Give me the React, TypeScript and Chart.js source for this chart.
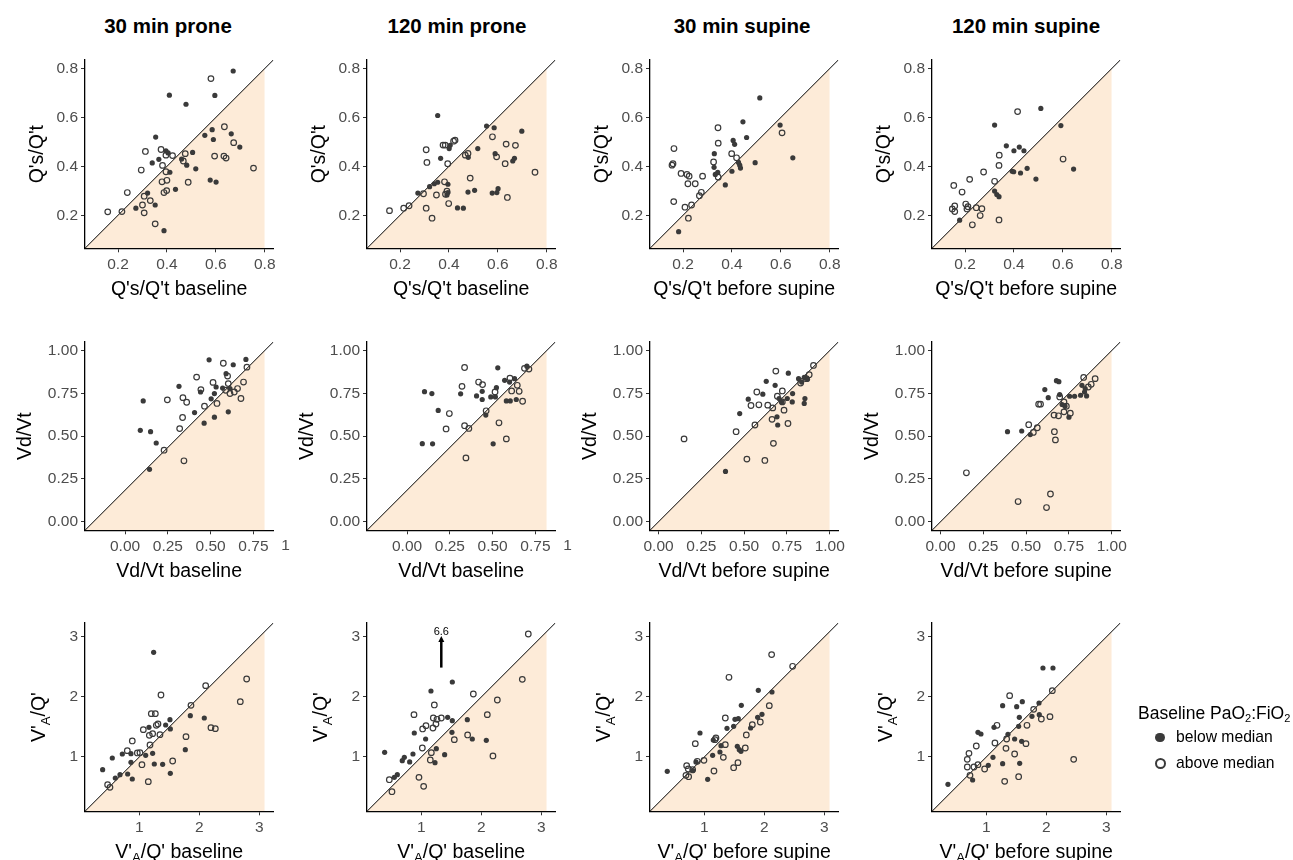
import React, { useEffect, useRef } from 'react';
import { Chart, registerables } from 'chart.js';

Chart.register(...registerables);

const FONT = '"Liberation Sans", Arial, Helvetica, sans-serif';

// ---------- data: [x, y] pairs ----------
const shunt30ProneBelow: [number, number][] = [[0.671,0.790],[0.410,0.691],[0.596,0.690],[0.478,0.654],[0.354,0.520],[0.555,0.527],[0.585,0.550],[0.590,0.510],[0.663,0.533],[0.698,0.479],[0.396,0.463],[0.367,0.429],[0.340,0.414],[0.405,0.455],[0.460,0.430],[0.481,0.405],[0.505,0.457],[0.518,0.390],[0.412,0.376],[0.435,0.306],[0.577,0.344],[0.601,0.336],[0.321,0.291],[0.352,0.242],[0.273,0.229],[0.388,0.137]];
const shunt30ProneAbove: [number, number][] = [[0.580,0.759],[0.635,0.562],[0.673,0.497],[0.312,0.461],[0.376,0.469],[0.396,0.446],[0.423,0.444],[0.475,0.452],[0.467,0.422],[0.382,0.404],[0.295,0.385],[0.396,0.378],[0.595,0.442],[0.633,0.442],[0.642,0.434],[0.754,0.393],[0.380,0.337],[0.400,0.343],[0.487,0.335],[0.388,0.293],[0.399,0.301],[0.238,0.293],[0.307,0.278],[0.332,0.260],[0.300,0.242],[0.307,0.210],[0.158,0.214],[0.216,0.215],[0.352,0.165]];

const shunt120ProneBelow: [number, number][] = [[0.354,0.608],[0.554,0.565],[0.585,0.558],[0.698,0.544],[0.405,0.486],[0.401,0.473],[0.518,0.473],[0.589,0.452],[0.366,0.433],[0.479,0.437],[0.668,0.433],[0.661,0.422],[0.354,0.335],[0.340,0.329],[0.321,0.317],[0.396,0.327],[0.273,0.291],[0.396,0.293],[0.392,0.283],[0.478,0.295],[0.505,0.302],[0.577,0.291],[0.596,0.293],[0.601,0.309],[0.435,0.230],[0.459,0.229]];
const shunt120ProneAbove: [number, number][] = [[0.578,0.521],[0.634,0.491],[0.672,0.486],[0.376,0.487],[0.385,0.487],[0.419,0.503],[0.425,0.507],[0.307,0.468],[0.467,0.446],[0.478,0.453],[0.595,0.439],[0.310,0.416],[0.395,0.411],[0.630,0.411],[0.752,0.376],[0.487,0.352],[0.382,0.337],[0.296,0.288],[0.349,0.283],[0.392,0.299],[0.386,0.286],[0.399,0.248],[0.639,0.273],[0.307,0.229],[0.331,0.188],[0.157,0.219],[0.215,0.229],[0.237,0.239]];

const shunt30SupineBelow: [number, number][] = [[0.514,0.680],[0.445,0.582],[0.597,0.569],[0.405,0.506],[0.411,0.490],[0.460,0.518],[0.328,0.452],[0.327,0.396],[0.342,0.376],[0.332,0.367],[0.427,0.416],[0.432,0.405],[0.435,0.393],[0.495,0.415],[0.649,0.435],[0.400,0.380],[0.373,0.324],[0.182,0.133]];
const shunt30SupineAbove: [number, number][] = [[0.343,0.558],[0.605,0.537],[0.344,0.495],[0.163,0.473],[0.399,0.452],[0.419,0.435],[0.325,0.418],[0.155,0.405],[0.159,0.411],[0.192,0.371],[0.216,0.367],[0.225,0.360],[0.280,0.360],[0.220,0.329],[0.250,0.329],[0.344,0.356],[0.275,0.294],[0.267,0.280],[0.162,0.256],[0.208,0.233],[0.235,0.242],[0.222,0.188]];

const shunt120SupineBelow: [number, number][] = [[0.510,0.637],[0.321,0.569],[0.592,0.567],[0.369,0.484],[0.400,0.464],[0.422,0.479],[0.441,0.464],[0.393,0.380],[0.399,0.378],[0.427,0.373],[0.454,0.392],[0.490,0.348],[0.644,0.389],[0.321,0.299],[0.330,0.285],[0.339,0.276],[0.178,0.180]];
const shunt120SupineAbove: [number, number][] = [[0.415,0.624],[0.340,0.446],[0.339,0.404],[0.276,0.377],[0.219,0.347],[0.321,0.339],[0.154,0.322],[0.188,0.295],[0.601,0.430],[0.203,0.246],[0.212,0.235],[0.158,0.238],[0.148,0.226],[0.158,0.215],[0.208,0.226],[0.246,0.231],[0.269,0.227],[0.262,0.199],[0.230,0.161],[0.339,0.181]];

const dead30ProneBelow: [number, number][] = [[0.491,0.946],[0.706,0.948],[0.632,0.917],[0.590,0.865],[0.315,0.791],[0.106,0.706],[0.532,0.787],[0.441,0.758],[0.522,0.749],[0.503,0.718],[0.570,0.781],[0.406,0.638],[0.462,0.576],[0.522,0.611],[0.603,0.642],[0.089,0.534],[0.149,0.526],[0.182,0.460],[0.143,0.306],[0.613,0.778]];
const dead30ProneAbove: [number, number][] = [[0.574,0.926],[0.712,0.903],[0.418,0.845],[0.514,0.814],[0.599,0.851],[0.443,0.772],[0.247,0.712],[0.338,0.725],[0.360,0.698],[0.464,0.675],[0.537,0.691],[0.603,0.807],[0.613,0.749],[0.638,0.758],[0.657,0.778],[0.692,0.816],[0.677,0.720],[0.588,0.768],[0.336,0.609],[0.319,0.544],[0.228,0.418],[0.344,0.356]];

const dead120ProneBelow: [number, number][] = [[0.530,0.899],[0.700,0.909],[0.102,0.760],[0.145,0.749],[0.313,0.747],[0.406,0.735],[0.439,0.762],[0.439,0.714],[0.489,0.729],[0.522,0.783],[0.516,0.729],[0.570,0.826],[0.599,0.816],[0.628,0.836],[0.580,0.706],[0.603,0.706],[0.638,0.714],[0.182,0.650],[0.460,0.623],[0.089,0.456],[0.149,0.455],[0.503,0.455]];
const dead120ProneAbove: [number, number][] = [[0.336,0.901],[0.686,0.896],[0.712,0.892],[0.418,0.816],[0.441,0.801],[0.321,0.791],[0.601,0.839],[0.644,0.797],[0.611,0.764],[0.655,0.762],[0.514,0.758],[0.675,0.704],[0.247,0.632],[0.462,0.648],[0.336,0.561],[0.361,0.545],[0.228,0.542],[0.537,0.578],[0.580,0.484],[0.344,0.373]];

const dead30SupineBelow: [number, number][] = [[0.758,0.868],[0.629,0.820],[0.681,0.797],[0.609,0.745],[0.524,0.716],[0.474,0.632],[0.704,0.720],[0.720,0.700],[0.752,0.720],[0.783,0.749],[0.781,0.700],[0.818,0.836],[0.836,0.816],[0.851,0.843],[0.855,0.720],[0.851,0.691],[0.692,0.613],[0.696,0.565],[0.391,0.294],[0.870,0.832]];
const dead30SupineAbove: [number, number][] = [[0.685,0.880],[0.905,0.913],[0.880,0.859],[0.863,0.836],[0.830,0.810],[0.723,0.764],[0.574,0.758],[0.694,0.733],[0.723,0.700],[0.540,0.679],[0.586,0.683],[0.638,0.681],[0.667,0.665],[0.733,0.652],[0.663,0.598],[0.756,0.574],[0.563,0.565],[0.453,0.526],[0.149,0.484],[0.671,0.458],[0.516,0.366],[0.621,0.358]];

const dead120SupineBelow: [number, number][] = [[0.677,0.824],[0.691,0.818],[0.609,0.772],[0.629,0.725],[0.696,0.743],[0.710,0.685],[0.727,0.675],[0.754,0.733],[0.783,0.733],[0.818,0.739],[0.826,0.797],[0.845,0.778],[0.853,0.735],[0.841,0.758],[0.750,0.611],[0.391,0.526],[0.474,0.530],[0.524,0.509]];
const dead120SupineAbove: [number, number][] = [[0.836,0.843],[0.903,0.836],[0.880,0.803],[0.863,0.787],[0.696,0.729],[0.721,0.700],[0.735,0.675],[0.721,0.642],[0.758,0.634],[0.573,0.687],[0.584,0.687],[0.663,0.623],[0.689,0.619],[0.515,0.567],[0.565,0.549],[0.542,0.522],[0.665,0.526],[0.671,0.478],[0.151,0.286],[0.642,0.162],[0.453,0.118],[0.619,0.083]];

const vq30ProneBelow: [number, number][] = [[1.239,2.744],[1.511,1.622],[1.439,1.533],[1.517,1.467],[1.850,1.689],[2.083,1.650],[1.767,1.122],[1.161,1.494],[1.222,1.061],[1.106,1.028],[0.861,1.056],[0.717,1.050],[0.550,0.983],[0.389,0.789],[0.600,0.650],[0.678,0.706],[0.806,0.717],[0.883,0.633],[0.861,0.911],[1.250,0.883],[1.389,0.878],[1.517,0.728]];
const vq30ProneAbove: [number, number][] = [[2.106,2.189],[2.789,2.300],[2.683,1.922],[1.861,1.861],[1.361,2.033],[1.200,1.722],[1.267,1.722],[1.283,1.528],[1.311,1.550],[1.067,1.456],[1.222,1.389],[1.167,1.361],[1.344,1.372],[0.883,1.267],[1.178,1.200],[0.800,1.106],[0.967,1.067],[1.011,1.072],[1.044,0.872],[1.556,0.933],[1.778,1.339],[2.194,1.489],[2.267,1.472],[1.150,0.589],[0.472,0.539],[0.511,0.494]];

const vq120ProneBelow: [number, number][] = [[1.517,2.250],[1.161,2.100],[1.439,1.661],[1.517,1.606],[1.767,1.622],[1.511,1.411],[0.883,1.400],[1.072,1.300],[1.850,1.300],[2.083,1.278],[1.250,1.139],[1.389,1.039],[1.228,0.906],[0.861,1.050],[0.717,0.994],[0.683,0.939],[0.806,0.917],[0.389,1.078],[0.600,0.706],[0.550,0.661]];
const vq120ProneAbove: [number, number][] = [[2.783,3.050],[2.683,2.294],[1.867,2.050],[2.267,1.950],[1.217,1.867],[0.878,1.706],[1.200,1.650],[1.261,1.628],[1.333,1.650],[1.078,1.522],[1.022,1.467],[1.194,1.483],[1.244,1.550],[2.100,1.706],[1.772,1.367],[1.550,1.289],[1.017,1.150],[1.167,1.072],[1.150,0.950],[2.194,1.017],[0.961,0.661],[1.039,0.511],[0.467,0.622],[0.511,0.422]];

const vq30SupineBelow: [number, number][] = [[1.900,2.111],[2.128,2.083],[1.617,1.861],[0.928,1.400],[1.378,1.478],[1.511,1.628],[1.567,1.639],[1.489,1.511],[1.772,1.483],[1.889,1.661],[1.961,1.711],[1.150,1.283],[1.278,1.189],[1.261,1.083],[1.139,1.028],[1.550,1.178],[1.583,1.122],[1.611,1.094],[0.861,0.917],[0.806,0.772],[0.383,0.761],[1.056,0.628]];
const vq30SupineAbove: [number, number][] = [[2.122,2.706],[2.472,2.511],[1.411,2.328],[2.083,1.856],[1.350,1.650],[1.194,1.317],[1.178,1.289],[0.850,1.222],[1.350,1.206],[1.800,1.539],[1.933,1.583],[1.700,1.367],[1.683,1.150],[1.317,0.994],[0.994,0.944],[0.883,0.928],[0.706,0.856],[0.733,0.800],[0.806,0.789],[0.694,0.694],[0.739,0.672],[1.161,0.767],[1.561,0.906],[1.489,0.822]];

const vq120SupineBelow: [number, number][] = [[1.944,2.483],[2.111,2.483],[1.272,1.856],[1.506,1.839],[1.600,1.922],[1.550,1.661],[1.878,1.900],[1.761,1.678],[1.883,1.706],[1.539,1.511],[1.128,1.494],[0.861,1.411],[0.911,1.383],[1.361,1.378],[1.472,1.300],[1.589,1.261],[1.111,0.994],[1.033,0.861],[1.272,0.889],[1.556,0.894],[0.772,0.617],[0.361,0.544]];
const vq120SupineAbove: [number, number][] = [[1.389,2.022],[2.100,2.106],[1.789,1.794],[1.917,1.633],[2.061,1.672],[1.678,1.528],[1.178,1.528],[1.339,1.300],[1.144,1.233],[0.833,1.183],[1.328,1.144],[1.661,1.222],[1.472,1.050],[0.711,1.061],[0.683,0.961],[0.683,0.833],[0.794,0.833],[0.861,0.872],[0.972,0.800],[0.728,0.694],[2.456,0.961],[1.306,0.594],[1.539,0.672]];

// ---------- tick labels / text ----------
const columnTitles = ['30 min prone', '120 min prone', '30 min supine', '120 min supine'];
const shuntTicks = [0.2, 0.4, 0.6, 0.8];
const deadTicks = [0, 0.25, 0.5, 0.75, 1];
const deadTicksShifted = [0, 0.25, 0.5, 0.75];
const vqTicks = [1, 2, 3];
const outlierLabel = '6.6';
const outlierX = 1.333;
const partialLabel = '1';

type Part = { t: string; sub?: boolean };
const shuntY: Part[] = [{ t: "Q's/Q't" }];
const shuntXBase: Part[] = [{ t: "Q's/Q't baseline" }];
const shuntXSup: Part[] = [{ t: "Q's/Q't before supine" }];
const deadY: Part[] = [{ t: 'Vd/Vt' }];
const deadXBase: Part[] = [{ t: 'Vd/Vt baseline' }];
const deadXSup: Part[] = [{ t: 'Vd/Vt before supine' }];
const vqY: Part[] = [{ t: "V'" }, { t: 'A', sub: true }, { t: "/Q'" }];
const vqXBase: Part[] = [{ t: "V'" }, { t: 'A', sub: true }, { t: "/Q' baseline" }];
const vqXSup: Part[] = [{ t: "V'" }, { t: 'A', sub: true }, { t: "/Q' before supine" }];

// ---------- layout ----------
const COL_LEFT = [85, 367.3, 649.6, 931.9];
const ROW_TOP = [60, 341.5, 623];
const SIZE = 188.3;
const CW = 300;
const CH = 280;
const PAD_TOP = 20;
const Y_AXIS_W = 85;
const TITLE_SIZE = 19.5;
const TICK_SIZE = 15.5;
const TICK_PAD = 3;

type RowSpec = {
  range: [number, number];
  shadeHi: number;
  ticks: number[];
  fmt: (v: number) => string;
  yTitle: Part[];
  yTitleOff: number;
};
const rows: RowSpec[] = [
  { range: [0.065, 0.835], shadeHi: 0.8, ticks: shuntTicks, fmt: (v) => v.toFixed(1), yTitle: shuntY, yTitleOff: 47 },
  { range: [-0.05, 1.05], shadeHi: 1.0, ticks: deadTicks, fmt: (v) => v.toFixed(2), yTitle: deadY, yTitleOff: 59 },
  { range: [0.095, 3.233], shadeHi: 3.09, ticks: vqTicks, fmt: (v) => String(v), yTitle: vqY, yTitleOff: 45 },
];

type PanelSpec = {
  row: number;
  col: number;
  below: [number, number][];
  above: [number, number][];
  xTitle: Part[];
  arrow?: boolean;
  xShift?: number;
  xTicks?: number[];
};
const panels: PanelSpec[] = [
  { row: 0, col: 0, below: shunt30ProneBelow, above: shunt30ProneAbove, xTitle: shuntXBase },
  { row: 0, col: 1, below: shunt120ProneBelow, above: shunt120ProneAbove, xTitle: shuntXBase },
  { row: 0, col: 2, below: shunt30SupineBelow, above: shunt30SupineAbove, xTitle: shuntXSup },
  { row: 0, col: 3, below: shunt120SupineBelow, above: shunt120SupineAbove, xTitle: shuntXSup },
  { row: 1, col: 0, below: dead30ProneBelow, above: dead30ProneAbove, xTitle: deadXBase, xShift: 0.184, xTicks: deadTicksShifted },
  { row: 1, col: 1, below: dead120ProneBelow, above: dead120ProneAbove, xTitle: deadXBase, xShift: 0.184, xTicks: deadTicksShifted },
  { row: 1, col: 2, below: dead30SupineBelow, above: dead30SupineAbove, xTitle: deadXSup },
  { row: 1, col: 3, below: dead120SupineBelow, above: dead120SupineAbove, xTitle: deadXSup },
  { row: 2, col: 0, below: vq30ProneBelow, above: vq30ProneAbove, xTitle: vqXBase },
  { row: 2, col: 1, below: vq120ProneBelow, above: vq120ProneAbove, xTitle: vqXBase, arrow: true },
  { row: 2, col: 2, below: vq30SupineBelow, above: vq30SupineAbove, xTitle: vqXSup },
  { row: 2, col: 3, below: vq120SupineBelow, above: vq120SupineAbove, xTitle: vqXSup },
];

function drawRich(ctx: CanvasRenderingContext2D, parts: Part[], size: number) {
  const widths = parts.map((p) => {
    ctx.font = `${p.sub ? size * 0.68 : size}px ${FONT}`;
    return ctx.measureText(p.t).width;
  });
  const total = widths.reduce((a, b) => a + b, 0);
  let x = -total / 2;
  ctx.textAlign = 'left';
  ctx.textBaseline = 'middle';
  parts.forEach((p, i) => {
    ctx.font = `${p.sub ? size * 0.68 : size}px ${FONT}`;
    ctx.fillText(p.t, x, p.sub ? size * 0.32 : 0);
    x += widths[i];
  });
}

function makeConfig(p: PanelSpec): any {
  const r = rows[p.row];
  const [lo, hi] = r.range;
  const sh = p.xShift || 0;
  const xTicks = p.xTicks || r.ticks;
  const overlay = {
    id: 'overlay',
    afterDraw(chart: any) {
      const { ctx, chartArea } = chart;
      const xs = chart.scales.x;
      const ys = chart.scales.y;
      ctx.save();
      ctx.fillStyle = '#000';
      ctx.translate((chartArea.left + chartArea.right) / 2, chartArea.bottom + 41);
      drawRich(ctx, p.xTitle, TITLE_SIZE);
      ctx.restore();
      ctx.save();
      ctx.fillStyle = '#000';
      ctx.translate(chartArea.left - r.yTitleOff, (chartArea.top + chartArea.bottom) / 2);
      ctx.rotate(-Math.PI / 2);
      drawRich(ctx, r.yTitle, TITLE_SIZE);
      ctx.restore();
      if (sh) {
        // the "1.00" tick label falls past the panel edge; only its leading "1" shows
        ctx.save();
        ctx.font = `${TICK_SIZE}px ${FONT}`;
        ctx.fillStyle = '#4d4d4d';
        const full = ctx.measureText('1.00').width;
        ctx.textAlign = 'left';
        ctx.textBaseline = 'top';
        ctx.fillText(partialLabel, xs.getPixelForValue(1) - full / 2, chartArea.bottom + 4 + TICK_PAD + 1);
        ctx.restore();
      }
      if (p.arrow) {
        const px = xs.getPixelForValue(outlierX);
        const y0 = ys.getPixelForValue(2.49);
        const y1 = ys.getPixelForValue(3.0);
        ctx.save();
        ctx.strokeStyle = '#000';
        ctx.fillStyle = '#000';
        ctx.lineWidth = 2.5;
        ctx.beginPath();
        ctx.moveTo(px, y0);
        ctx.lineTo(px, y1 + 3);
        ctx.stroke();
        ctx.beginPath();
        ctx.moveTo(px, y1 - 1);
        ctx.lineTo(px - 3, y1 + 5);
        ctx.lineTo(px + 3, y1 + 5);
        ctx.closePath();
        ctx.fill();
        ctx.font = `11px ${FONT}`;
        ctx.textAlign = 'center';
        ctx.textBaseline = 'middle';
        ctx.fillText(outlierLabel, px, ys.getPixelForValue(3.085));
        ctx.restore();
      }
    },
  };
  const axis = (isX: boolean) => ({
    type: 'linear',
    min: isX ? lo - sh : lo,
    max: isX ? hi - sh : hi,
    afterBuildTicks: (s: any) => {
      s.ticks = (isX ? xTicks : r.ticks).map((v) => ({ value: v }));
    },
    afterFit: (s: any) => {
      if (isX) s.height = CH - PAD_TOP - SIZE;
      else s.width = Y_AXIS_W;
      s.paddingLeft = 0;
      s.paddingRight = 0;
      s.paddingTop = 0;
      s.paddingBottom = 0;
    },
    ticks: {
      autoSkip: false,
      maxRotation: 0,
      minRotation: 0,
      padding: TICK_PAD,
      color: '#4d4d4d',
      font: { family: FONT, size: TICK_SIZE },
      callback: (v: number) => r.fmt(v),
    },
    grid: { display: true, drawOnChartArea: false, drawTicks: true, tickLength: 4, color: '#333333', lineWidth: 1 },
    border: { display: true, color: '#000000', width: 1.3 },
  });
  return {
    type: 'scatter',
    data: {
      datasets: [
        {
          data: p.below.map(([x, y]) => ({ x, y })),
          pointRadius: 2.6,
          pointBackgroundColor: '#3a3a3a',
          pointBorderColor: '#3a3a3a',
          pointBorderWidth: 0,
        },
        {
          data: p.above.map(([x, y]) => ({ x, y })),
          pointRadius: 2.8,
          pointBackgroundColor: 'rgba(0,0,0,0)',
          pointBorderColor: '#3a3a3a',
          pointBorderWidth: 1.2,
        },
        {
          type: 'line',
          data: [{ x: lo - sh, y: lo }, { x: hi - sh, y: hi }],
          borderColor: '#000000',
          borderWidth: 1,
          pointRadius: 0,
          fill: false,
        },
        {
          type: 'line',
          data: [{ x: lo - sh, y: lo }, { x: r.shadeHi - sh, y: r.shadeHi }],
          borderColor: 'rgba(0,0,0,0)',
          borderWidth: 0,
          backgroundColor: '#fdebd8',
          pointRadius: 0,
          fill: 'start',
        },
      ],
    },
    options: {
      responsive: false,
      animation: false,
      devicePixelRatio: 1,
      events: [],
      layout: { autoPadding: false, padding: { left: 0, top: PAD_TOP, right: CW - Y_AXIS_W - SIZE, bottom: 0 } },
      plugins: { legend: { display: false }, tooltip: { enabled: false }, title: { display: false } },
      scales: { x: axis(true), y: axis(false) },
    },
    plugins: [overlay],
  };
}

function Panel({ spec }: { spec: PanelSpec }) {
  const ref = useRef<HTMLCanvasElement>(null);
  useEffect(() => {
    const chart = new Chart(ref.current as HTMLCanvasElement, makeConfig(spec));
    return () => chart.destroy();
  }, [spec]);
  const left = COL_LEFT[spec.col] - Y_AXIS_W;
  const top = ROW_TOP[spec.row] - PAD_TOP;
  return (
    <canvas
      ref={ref}
      width={CW}
      height={CH}
      style={{ position: 'absolute', left, top, width: CW, height: CH }}
    />
  );
}

const titleCenters = [168, 457, 742, 1026];
const subStyle: React.CSSProperties = { fontSize: 11, verticalAlign: '-3px', lineHeight: 0 };

export default function App() {
  return (
    <div style={{ position: 'absolute', left: 0, top: 0, width: 1293, height: 860, overflow: 'hidden', background: '#fff', fontFamily: FONT }}>
      {columnTitles.map((t, i) => (
        <div
          key={t}
          style={{
            position: 'absolute',
            left: titleCenters[i] - 100,
            width: 200,
            top: 14,
            textAlign: 'center',
            fontWeight: 'bold',
            fontSize: 20.5,
            lineHeight: '24px',
            color: '#000',
          }}
        >
          {t}
        </div>
      ))}
      {panels.map((p) => (
        <Panel key={`${p.row}-${p.col}`} spec={p} />
      ))}
      <div style={{ position: 'absolute', left: 1138, top: 702, fontSize: 17.5, lineHeight: '22px', color: '#000', whiteSpace: 'nowrap' }}>
        Baseline PaO<sub style={subStyle}>2</sub>:FiO<sub style={subStyle}>2</sub>
      </div>
      <div style={{ position: 'absolute', left: 1155, top: 732.5, width: 9.5, height: 9.5, borderRadius: '50%', background: '#3a3a3a' }} />
      <div style={{ position: 'absolute', left: 1176, top: 727, fontSize: 15.7, lineHeight: '20px', color: '#000', whiteSpace: 'nowrap' }}>below median</div>
      <div style={{ position: 'absolute', left: 1155, top: 758, width: 7, height: 7, borderRadius: '50%', border: '2px solid #3a3a3a' }} />
      <div style={{ position: 'absolute', left: 1176, top: 752.5, fontSize: 15.7, lineHeight: '20px', color: '#000', whiteSpace: 'nowrap' }}>above median</div>
    </div>
  );
}
